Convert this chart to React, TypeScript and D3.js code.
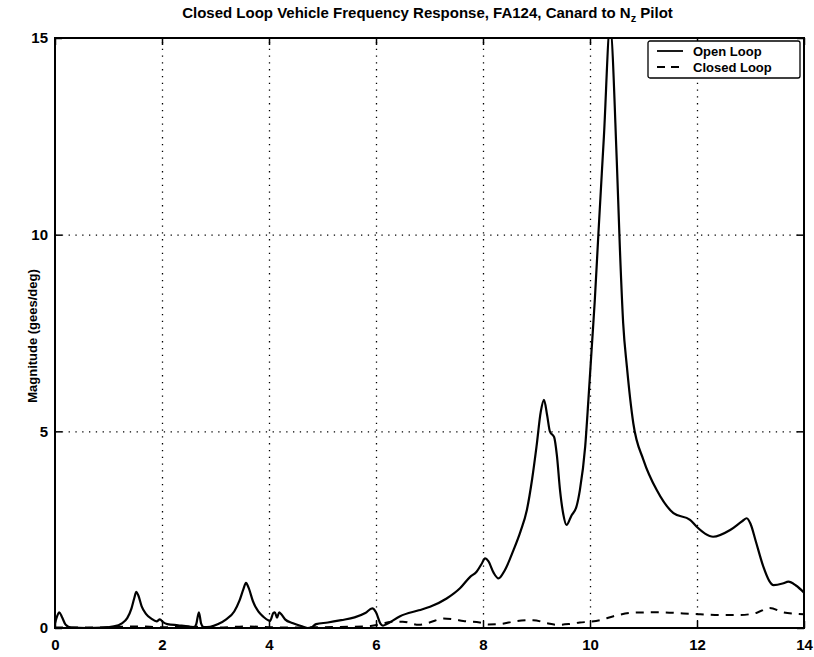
import React, { useEffect, useRef } from 'react';
import * as d3 from 'd3';

// frequency (x) and magnitude (gees/deg)
const openFreq = [
  0.0, 0.04, 0.08, 0.13, 0.2, 0.3, 0.6, 0.9, 1.1, 1.25, 1.35, 1.43, 1.48, 1.52, 1.56, 1.62, 1.7, 1.8, 1.9, 1.96,
  2.02, 2.1, 2.3, 2.5, 2.6, 2.64, 2.69, 2.73, 2.78, 2.9, 3.05, 3.2, 3.35, 3.45, 3.52, 3.57, 3.62, 3.7, 3.8, 3.9,
  3.98, 4.02, 4.08, 4.11, 4.15, 4.19, 4.23, 4.3, 4.45, 4.6, 4.72, 4.8, 4.88, 5.1, 5.35, 5.6, 5.8, 5.93, 6.0, 6.08,
  6.13, 6.2, 6.45, 6.8, 7.01, 7.32, 7.57, 7.76, 7.88, 7.97, 8.04, 8.1, 8.2, 8.29, 8.4, 8.57, 8.7, 8.82, 8.92, 9.0,
  9.08, 9.14, 9.2, 9.25, 9.33, 9.38, 9.44, 9.5, 9.56, 9.65, 9.75, 9.81, 9.91, 9.97, 10.03, 10.09, 10.16, 10.26,
  10.375, 10.5, 10.56, 10.62, 10.69, 10.81, 11.0, 11.25, 11.56, 11.87, 11.99, 12.15, 12.3, 12.62, 12.85, 12.93,
  13.0, 13.1, 13.24, 13.35, 13.43, 13.6, 13.71, 13.85, 14.0,
];
const openMag = [
  0.12, 0.3, 0.4, 0.28, 0.08, 0.01, 0.0, 0.01, 0.04, 0.12, 0.25, 0.5, 0.75, 0.92, 0.82, 0.55, 0.36, 0.24, 0.17, 0.22,
  0.15, 0.1, 0.07, 0.04, 0.02, 0.1, 0.4, 0.12, 0.02, 0.03, 0.1, 0.22, 0.42, 0.7, 0.98, 1.15, 1.02, 0.68, 0.42, 0.28,
  0.2, 0.18, 0.38, 0.4, 0.26, 0.4, 0.35, 0.22, 0.12, 0.05, 0.0, 0.02, 0.1, 0.14, 0.2, 0.27, 0.38, 0.5, 0.4, 0.12,
  0.06, 0.1, 0.3, 0.45, 0.54, 0.75, 1.01, 1.3, 1.43, 1.62, 1.77, 1.7, 1.4, 1.26, 1.45, 1.98, 2.45, 3.0, 3.8, 4.61,
  5.5, 5.8, 5.4, 5.0, 4.85, 4.4, 3.5, 2.9, 2.62, 2.85, 3.1, 3.5, 4.61, 5.8, 7.07, 8.34, 10.1, 12.5,
  15.3, 11.9, 9.6, 7.75, 6.64, 5.2, 4.27, 3.5, 2.92, 2.75, 2.58, 2.4, 2.32, 2.49, 2.72, 2.79,
  2.65, 2.2, 1.56, 1.2, 1.09, 1.13, 1.18, 1.08, 0.9,
];

const closedFreq = [
  0.0, 0.5, 1.0, 1.55, 2.0, 2.7, 3.0, 3.6, 4.0, 4.5, 5.0, 5.5, 5.9, 6.1, 6.3, 6.5, 6.8, 7.0, 7.26, 7.45, 7.63,
  7.94, 8.1, 8.32, 8.6, 8.94, 9.2, 9.38, 9.6, 9.81, 10.0, 10.19, 10.44, 10.81, 11.31, 11.74, 12.06, 12.43, 12.8,
  13.12, 13.36, 13.61, 13.86, 14.0,
];
const closedMag = [
  0.01, 0.01, 0.02, 0.04, 0.02, 0.03, 0.01, 0.04, 0.02, 0.01, 0.02, 0.03, 0.05, 0.1, 0.16, 0.16, 0.08, 0.14, 0.24,
  0.22, 0.18, 0.14, 0.09, 0.1, 0.17, 0.2, 0.12, 0.08, 0.1, 0.14, 0.16, 0.2, 0.3, 0.39, 0.4, 0.37, 0.35, 0.33, 0.33,
  0.39, 0.51, 0.4, 0.36, 0.35,
];

const xTicks = [0, 2, 4, 6, 8, 10, 12, 14];
const yTicks = [0, 5, 10, 15];
const seriesNames = ['Open Loop', 'Closed Loop'];

const FONT = 'Arial, "Liberation Sans", Helvetica, sans-serif';

export default function App() {
  const ref = useRef<SVGSVGElement>(null);

  useEffect(() => {
    if (!ref.current) return;
    const svg = d3.select(ref.current);
    svg.selectAll('*').remove();

    const width = 814;
    const height = 657;
    const margin = { top: 38, right: 10, bottom: 29, left: 55 };
    const w = width - margin.left - margin.right;
    const h = height - margin.top - margin.bottom;

    const x = d3.scaleLinear().domain([0, 14]).range([0, w]);
    const y = d3.scaleLinear().domain([0, 15]).range([h, 0]);

    svg.append('defs').append('clipPath').attr('id', 'plot-clip')
      .append('rect').attr('width', w).attr('height', h);

    const g = svg.append('g').attr('transform', `translate(${margin.left},${margin.top})`);

    // dotted grid
    g.append('g')
      .attr('transform', `translate(0,${h})`)
      .call(d3.axisBottom(x).tickValues(xTicks.slice(1, -1)).tickSize(-h).tickFormat(() => ''))
      .call(s => s.select('.domain').remove())
      .selectAll('line')
      .attr('stroke', '#000')
      .attr('stroke-width', 1.3)
      .attr('stroke-dasharray', '1.3,5.5');

    g.append('g')
      .call(d3.axisLeft(y).tickValues(yTicks.slice(1, -1)).tickSize(-w).tickFormat(() => ''))
      .call(s => s.select('.domain').remove())
      .selectAll('line')
      .attr('stroke', '#000')
      .attr('stroke-width', 1.3)
      .attr('stroke-dasharray', '1.3,5.5');

    // curves
    const line = d3.line<number>()
      .x(d => x(d))
      .curve(d3.curveMonotoneX);

    const curves = g.append('g').attr('clip-path', 'url(#plot-clip)');

    curves.append('path')
      .attr('d', line.y((_, i) => y(closedMag[i]))(closedFreq))
      .attr('fill', 'none')
      .attr('stroke', '#000')
      .attr('stroke-width', 2)
      .attr('stroke-dasharray', '8,7');

    curves.append('path')
      .attr('d', line.y((_, i) => y(openMag[i]))(openFreq))
      .attr('fill', 'none')
      .attr('stroke', '#000')
      .attr('stroke-width', 2.2);

    // axes with inward ticks on all four sides
    const styleAxis = (s: d3.Selection<SVGGElement, unknown, null, undefined>) => {
      s.select('.domain').remove();
      s.selectAll('line').attr('stroke', '#000').attr('stroke-width', 1.5);
      s.selectAll('text')
        .attr('fill', '#000')
        .style('font-family', FONT)
        .style('font-size', '15px')
        .style('font-weight', 'bold');
    };

    g.append('g')
      .attr('transform', `translate(0,${h})`)
      .call(d3.axisBottom(x).tickValues(xTicks).tickSize(-7).tickPadding(11).tickFormat(d3.format('d')))
      .call(styleAxis);
    g.append('g')
      .call(d3.axisTop(x).tickValues(xTicks).tickSize(-7).tickFormat(() => ''))
      .call(styleAxis);
    g.append('g')
      .call(d3.axisLeft(y).tickValues(yTicks).tickSize(-7).tickPadding(7).tickFormat(d3.format('d')))
      .call(styleAxis);
    g.append('g')
      .attr('transform', `translate(${w},0)`)
      .call(d3.axisRight(y).tickValues(yTicks).tickSize(-7).tickFormat(() => ''))
      .call(styleAxis);

    // frame
    g.append('rect')
      .attr('width', w)
      .attr('height', h)
      .attr('fill', 'none')
      .attr('stroke', '#000')
      .attr('stroke-width', 2);

    // title
    const title = svg.append('text')
      .attr('x', margin.left + w / 2 - 2)
      .attr('y', 18)
      .attr('text-anchor', 'middle')
      .attr('fill', '#000')
      .style('font-family', FONT)
      .style('font-size', '15px')
      .style('font-weight', 'bold');
    title.append('tspan').text('Closed Loop Vehicle Frequency Response, FA124, Canard to N');
    title.append('tspan').attr('dy', 4).style('font-size', '11px').text('z');
    title.append('tspan').attr('dy', -4).text(' Pilot');

    // y label
    svg.append('text')
      .attr('transform', `translate(37,${margin.top + h / 2 + 3}) rotate(-90)`)
      .attr('text-anchor', 'middle')
      .attr('fill', '#000')
      .style('font-family', FONT)
      .style('font-size', '13px')
      .style('font-weight', 'bold')
      .text('Magnitude (gees/deg)');

    // legend
    const lg = svg.append('g').attr('transform', 'translate(648,41)');
    lg.append('rect')
      .attr('width', 152)
      .attr('height', 37)
      .attr('rx', 2)
      .attr('fill', '#fff')
      .attr('stroke', '#000')
      .attr('stroke-width', 1.3);
    seriesNames.forEach((name, i) => {
      const row = lg.append('g').attr('transform', `translate(0,${10 + i * 16})`);
      row.append('line')
        .attr('x1', 9).attr('x2', 35)
        .attr('stroke', '#000')
        .attr('stroke-width', 1.8)
        .attr('stroke-dasharray', i === 0 ? null : '8,6');
      row.append('text')
        .attr('x', 45)
        .attr('dy', '0.35em')
        .attr('fill', '#000')
        .style('font-family', FONT)
        .style('font-size', '13px')
        .style('font-weight', 'bold')
        .text(name);
    });
  }, []);

  return (
    <svg
      ref={ref}
      width={814}
      height={657}
      style={{ position: 'absolute', left: 0, top: 0, background: '#fff' }}
    />
  );
}
